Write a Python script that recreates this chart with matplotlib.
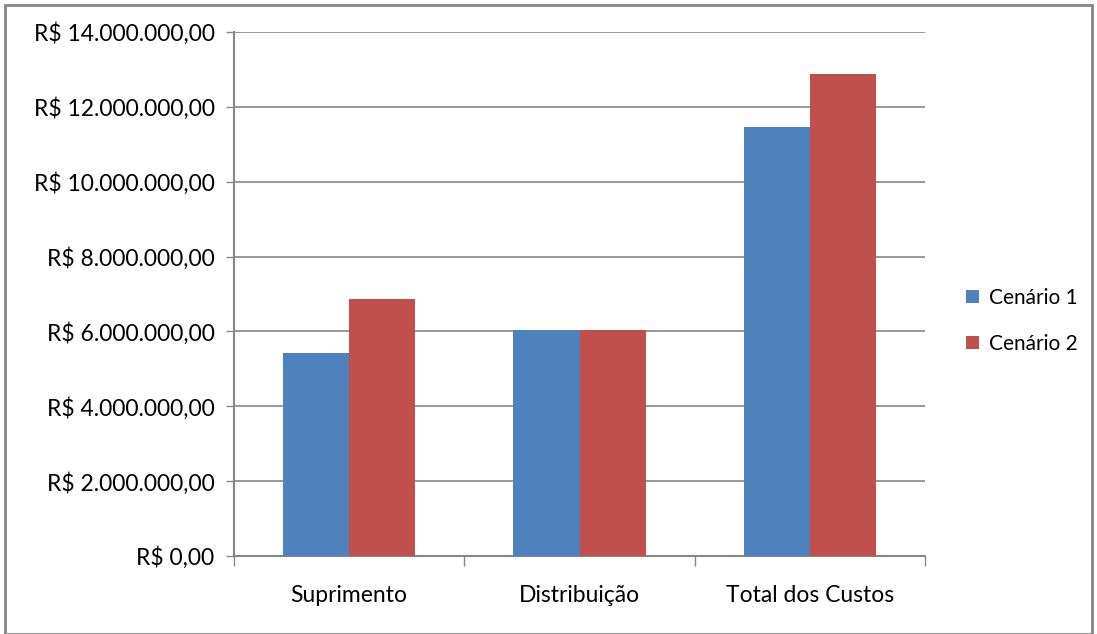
import matplotlib
matplotlib.use("Agg")
import matplotlib.pyplot as plt
from matplotlib.patches import Rectangle
from matplotlib.ticker import FuncFormatter
import numpy as np

categories = ["Suprimento", "Distribuição", "Total dos Custos"]
series_names = ["Cenário 1", "Cenário 2"]
cenario1 = [5430000, 6040000, 11450000]
cenario2 = [6870000, 6040000, 12870000]
colors = ["#4F81BD", "#C0504D"]

plt.rcParams['font.family'] = ['Lato', 'DejaVu Sans']

W, H = 1097, 634
fig = plt.figure(figsize=(W/100, H/100), dpi=100)
ax = fig.add_axes([234/W, 1-556/H, (925-234)/W, (556-32)/H])

x = np.arange(len(categories))
bw = 0.287
ax.bar(x - bw/2, cenario1, bw, color=colors[0], label=series_names[0], zorder=3)
ax.bar(x + bw/2, cenario2, bw, color=colors[1], label=series_names[1], zorder=3)

ax.set_xlim(-0.5, 2.5)
ax.set_ylim(0, 14000000)
ax.set_yticks(np.arange(0, 14000001, 2000000))

def fmt(v, pos):
    s = f"{int(round(v)):,}".replace(",", ".")
    return f"R$ {s},00"
ax.yaxis.set_major_formatter(FuncFormatter(fmt))

ax.set_xticks(x)
ax.set_xticklabels(categories)
ax.set_xticks([-0.5, 0.5, 1.5, 2.5], minor=True)
ax.tick_params(axis='x', which='major', length=0, pad=21, labelsize=16.5)
ax.tick_params(axis='x', which='minor', length=7, color="#868686", width=1)
ax.tick_params(axis='y', length=6, color="#868686", width=1, labelsize=16.5, pad=8)

ax.grid(axis='y', color="#868686", linewidth=1.2, zorder=0)
for s in ['top', 'right']:
    ax.spines[s].set_visible(False)
for s in ['left', 'bottom']:
    ax.spines[s].set_color("#868686")
    ax.spines[s].set_linewidth(1.5)

leg = fig.legend(loc='upper left', bbox_to_anchor=(966/W, 1-288/H), frameon=False,
                 borderpad=0, borderaxespad=0,
                 fontsize=15, handlelength=0.6, handleheight=0.6, labelspacing=1.25,
                 handletextpad=0.5)

fig.patches.append(Rectangle((5/W, 0), 1-10/W, 1-5/H, transform=fig.transFigure,
                             fill=False, edgecolor="#868686", linewidth=2))

fig.savefig("out.png", dpi=100)
